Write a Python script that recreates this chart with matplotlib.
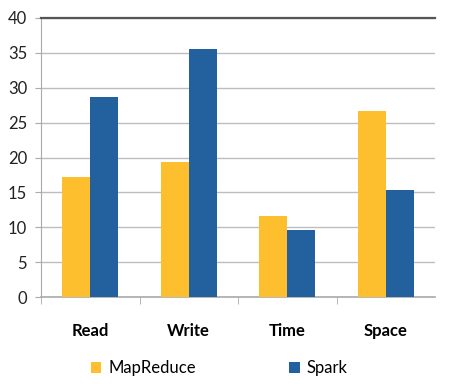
import matplotlib
matplotlib.use("Agg")
import matplotlib.pyplot as plt
import numpy as np

categories = ["Read", "Write", "Time", "Space"]
mapreduce = [17.2, 19.4, 11.6, 26.6]
spark = [28.7, 35.5, 9.6, 15.4]
yticks = [0, 5, 10, 15, 20, 25, 30, 35, 40]

plt.rcParams['font.family'] = ['Lato', 'DejaVu Sans']

fig = plt.figure(figsize=(4.57, 3.88), dpi=100)
ax = fig.add_axes([41/457, 1-297/388, 394/457, 279/388])

x = np.arange(len(categories))
w = 0.285
b1 = ax.bar(x - w/2, mapreduce, w, color="#FDBF2D", label="MapReduce", zorder=3)
b2 = ax.bar(x + w/2, spark, w, color="#22609E", label="Spark", zorder=3)

ax.set_xlim(-0.5, 3.5)
ax.set_ylim(0, 40)
ax.set_yticks(yticks)
ax.set_yticklabels([str(v) for v in yticks], fontsize=12)
ax.yaxis.grid(True, color="#BDBDBD", linewidth=1.0, zorder=0)
ax.set_axisbelow(True)

ax.spines["right"].set_visible(False)
ax.spines["top"].set_color("#555555")
ax.spines["top"].set_linewidth(1.6)
ax.spines["left"].set_color("#AAAAAA")
ax.spines["bottom"].set_color("#AAAAAA")
ax.spines["bottom"].set_linewidth(1.2)

ax.tick_params(axis="y", length=4, color="#AAAAAA", pad=6, labelcolor="#222222")
ax.set_xticks(x)
ax.set_xticklabels(categories, fontsize=12, fontweight="bold")
ax.tick_params(axis="x", which="major", length=0, pad=19)
ax.set_xticks([-0.5, 0.5, 1.5, 2.5], minor=True)
ax.tick_params(axis="x", which="minor", length=5, color="#AAAAAA")

fig.legend(handles=[b1, b2], labels=["MapReduce", "Spark"], loc="center",
           bbox_to_anchor=(219/457, 1-368/388), ncol=2, frameon=False,
           fontsize=12, handlelength=0.65, handleheight=0.65, handletextpad=0.4,
           columnspacing=5.6)

fig.savefig("out.png", dpi=100)
